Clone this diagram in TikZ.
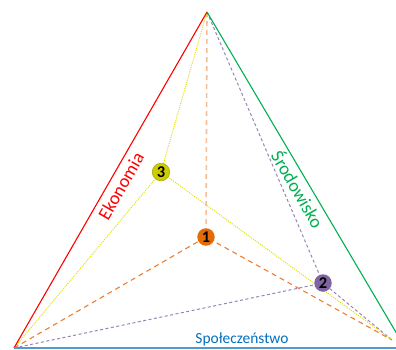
\documentclass[tikz,border=0pt]{standalone}
\usepackage{fontspec}
\setmainfont{Carlito}
\definecolor{ekored}{HTML}{FF0000}
\definecolor{srodgreen}{HTML}{00B050}
\definecolor{spolblue}{HTML}{0070C0}
\definecolor{ptorange}{HTML}{ED7D31}
\definecolor{ptorangefill}{HTML}{E36C09}
\definecolor{ptpurple}{HTML}{8064A2}
\definecolor{ptyellow}{HTML}{CCCC00}
\definecolor{ptyellowline}{HTML}{E0E000}
\tikzset{
  side/.style={line width=1.1bp},
  orangeline/.style={ptorange, line width=1.1bp, dash pattern=on 5bp off 4bp},
  purpleline/.style={ptpurple!80, line width=1bp, dash pattern=on 3bp off 2.5bp},
  yellowline/.style={ptyellowline, line width=1bp, dash pattern=on 1bp off 1.2bp},
  marker/.style={circle, inner sep=0pt, minimum size=17.5bp, font=\bfseries\fontsize{16.5}{16.5}\selectfont},
  sidelabel/.style={font=\fontsize{18.5}{18.5}\selectfont, inner sep=0pt},
  baselabel/.style={font=\fontsize{15.5}{15.5}\selectfont, inner sep=0pt}
}
\begin{document}
\begin{tikzpicture}[x=1bp,y=-1bp]
\useasboundingbox (0,0) rectangle (396,350);
% triangle corners
\coordinate (top) at (207,12);
\coordinate (left) at (14,348);
\coordinate (right) at (392,340);
\coordinate (greenend) at (397,334);
\coordinate (blueend) at (396,348);
% weighted points
\coordinate (p1) at (206,237);
\coordinate (p2) at (323,283);
\coordinate (p3) at (161,172);
% rays from each point to the corners
\draw[orangeline, ptorange!50, line width=1.6bp] (top) -- (p1);
\draw[orangeline] (left) -- (p1) -- (right);
\draw[purpleline] (top) -- (p2);
\draw[purpleline] (left) -- (p2) -- (right);
\draw[yellowline] (top) -- (p3);
\draw[yellowline] (left) -- (p3) -- (right);
% sides
\draw[side, ekored] (top) -- (left);
\draw[side, srodgreen] (top) -- (greenend);
\draw[side, spolblue!70, line width=1.6bp] (left) -- (blueend);
% markers
\node[marker, fill=ptorangefill] (n1) at (p1) {1};
\node[marker, fill=ptpurple] (n2) at (p2) {2};
\node[marker, fill=ptyellow, draw=ptyellow!80!black, line width=0.5bp] (n3) at (p3) {3};
% side labels
\node[sidelabel, text=ekored, rotate=60] (eko) at (121,186) {Ekonomia};
\node[sidelabel, text=srodgreen, rotate=-60] (srod) at (298.5,189) {Środowisko};
\node[baselabel, text=spolblue] (spol) at (242,339) {Społeczeństwo};
\end{tikzpicture}
\end{document}
